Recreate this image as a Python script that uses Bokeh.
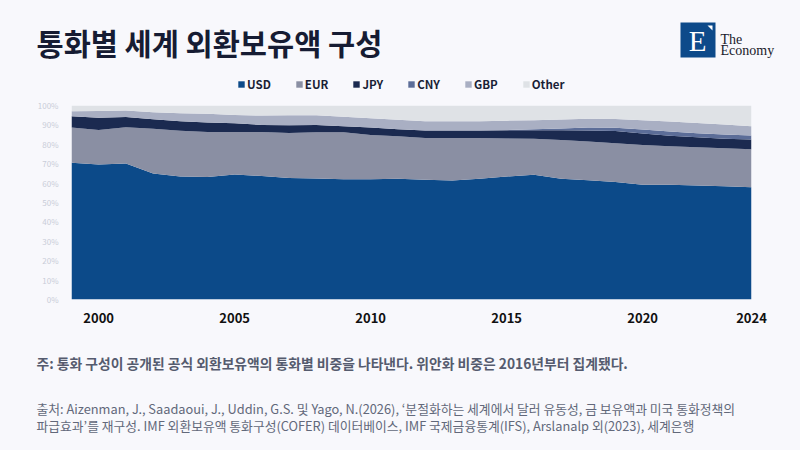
from bokeh.plotting import figure
from bokeh.models import (ColumnDataSource, Label, Legend, LegendItem, FixedTicker,
                          CustomJSTickFormatter, Range1d)
from bokeh.layouts import column
from bokeh.embed import file_html
from bokeh.resources import INLINE

years = list(range(1999, 2025))
usd = [70.5, 69.6, 70.1, 65.0, 63.4, 63.1, 64.4, 63.7, 62.6, 62.4, 62.0, 62.0, 62.2,
       61.7, 61.3, 62.2, 63.4, 64.3, 62.3, 61.5, 60.6, 59.2, 59.2, 58.7, 58.4, 57.9]
eur = [18.2, 17.8, 18.7, 23.0, 23.6, 23.2, 22.0, 22.6, 23.2, 23.8, 24.2, 22.8, 22.0,
       21.6, 21.9, 21.0, 19.6, 18.5, 19.9, 19.9, 20.0, 20.5, 19.8, 19.8, 19.6, 19.5]
jpy = [5.8, 6.3, 5.3, 4.9, 4.9, 4.9, 4.4, 3.7, 4.0, 3.8, 3.1, 3.8, 3.6,
       3.8, 3.9, 3.9, 4.3, 4.4, 5.1, 5.7, 6.2, 5.9, 5.4, 5.1, 4.9, 5.1]
cny = [0.0, 0.0, 0.0, 0.0, 0.0, 0.0, 0.0, 0.0, 0.0, 0.0, 0.0, 0.0, 0.0,
       0.0, 0.0, 0.0, 0.0, 0.6, 0.9, 1.6, 1.7, 2.0, 2.2, 2.1, 2.1, 2.0]
gbp = [2.6, 3.5, 3.3, 3.6, 4.1, 4.6, 4.3, 4.8, 5.2, 5.0, 4.9, 4.8, 4.8,
       4.8, 4.8, 4.8, 4.9, 4.6, 4.6, 4.5, 4.6, 4.8, 5.2, 5.3, 5.2, 4.8]
other = [2.9, 2.8, 2.6, 3.5, 4.0, 4.2, 4.9, 5.2, 5.0, 5.0, 5.8, 6.6, 7.4,
         8.1, 8.1, 8.1, 7.8, 7.6, 7.2, 6.8, 6.9, 7.6, 8.2, 9.0, 9.8, 10.7]

series_names = ["USD", "EUR", "JPY", "CNY", "GBP", "Other"]
series_colors = ["#0c4a89", "#8a8fa3", "#1b2a50", "#5c6d98", "#a9afc3", "#dfe2e6"]
x_ticks = [2000, 2005, 2010, 2015, 2020, 2024]
y_ticks = [0, 10, 20, 30, 40, 50, 60, 70, 80, 90, 100]

title_text = "통화별 세계 외환보유액 구성"
note_text = "주: 통화 구성이 공개된 공식 외환보유액의 통화별 비중을 나타낸다. 위안화 비중은 2016년부터 집계됐다."
source_line1 = "출처: Aizenman, J., Saadaoui, J., Uddin, G.S. 및 Yago, N.(2026), ‘분절화하는 세계에서 달러 유동성, 금 보유액과 미국 통화정책의"
source_line2 = "파급효과’를 재구성. IMF 외환보유액 통화구성(COFER) 데이터베이스, IMF 국제금융통계(IFS), Arslanalp 외(2023), 세계은행"

BG = "#f8f8fc"
KR = "Noto Sans CJK KR"
W = 800
H_HEAD, H_CHART, H_FOOT = 97, 243, 110

series_values = dict(USD=usd, EUR=eur, JPY=jpy, CNY=cny, GBP=gbp, Other=other)


def blank_fig(h):
    f = figure(width=W, height=h, output_backend="svg", toolbar_location=None,
               x_range=Range1d(0, W), y_range=Range1d(h, 0),
               x_axis_type=None, y_axis_type=None, frame_align=False,
               min_border=0, min_border_left=0, min_border_right=0,
               min_border_top=0, min_border_bottom=0,
               background_fill_color=BG, border_fill_color=BG, outline_line_color=None)
    f.xgrid.visible = False
    f.ygrid.visible = False
    return f


def add_text(f, text, x, y, size, color, font=KR, style="normal", align="left", baseline="middle"):
    f.add_layout(Label(x=x, y=y, text=text, text_font=font, text_font_size=size,
                       text_font_style=style, text_color=color,
                       text_align=align, text_baseline=baseline))


# ---- header: title + logo + legend
head = blank_fig(H_HEAD)
add_text(head, title_text, 36, 41, "29.5px", "#161c33", style="bold")
head.quad(left=[680], right=[715], top=[22], bottom=[57], fill_color="#0d4a8a", line_color=None)
head.patch(x=[707, 712, 712], y=[25, 25, 30], fill_color="#ffffff", line_color=None)
add_text(head, "E", 697, 40.5, "29px", "#ffffff", font="Liberation Serif", align="center")
add_text(head, "The", 720, 38.5, "14px", "#1a1a2a", font="Liberation Serif", baseline="alphabetic")
add_text(head, "Economy", 720, 49.5, "14px", "#1a1a2a", font="Liberation Serif", baseline="alphabetic")

# legend swatches: the series themselves, drawn in the header (they fall outside its range)
swatches = [head.varea(x=years, y1=0, y2=series_values[n], color=c)
            for n, c in zip(series_names, series_colors)]
legend = Legend(items=[LegendItem(label=n, renderers=[r]) for n, r in zip(series_names, swatches)],
                orientation="horizontal", location=(237, 5),
                background_fill_alpha=0, border_line_color=None, padding=0, margin=0,
                spacing=24, glyph_width=8, glyph_height=8, label_standoff=2,
                label_height=8, label_text_font=KR, label_text_font_style="bold",
                label_text_font_size="11.5px", label_text_color="#1a1f36",
                label_text_baseline="middle")
head.add_layout(legend, "center")

# ---- chart
source = ColumnDataSource(dict(year=years, **series_values))

p = figure(width=W, height=H_CHART, output_backend="svg", toolbar_location=None,
           x_range=Range1d(1999, 2024), y_range=Range1d(0, 100), frame_align=False,
           min_border_left=71, min_border_right=49, min_border_top=8, min_border_bottom=41,
           background_fill_color=BG, border_fill_color=BG, outline_line_color=None)

p.varea_stack(stackers=series_names, x="year", color=series_colors, source=source)

p.xgrid.visible = False
p.ygrid.visible = False

p.xaxis.ticker = FixedTicker(ticks=x_ticks)
p.xaxis.axis_line_color = None
p.xaxis.major_tick_line_color = None
p.xaxis.minor_tick_line_color = None
p.xaxis.major_label_text_font = KR
p.xaxis.major_label_text_font_style = "bold"
p.xaxis.major_label_text_font_size = "13px"
p.xaxis.major_label_text_color = "#111111"
p.xaxis.major_label_standoff = 7

p.yaxis.ticker = FixedTicker(ticks=y_ticks)
p.yaxis.formatter = CustomJSTickFormatter(code="return tick + '%';")
p.yaxis.axis_line_color = None
p.yaxis.major_tick_line_color = None
p.yaxis.minor_tick_line_color = None
p.yaxis.major_label_text_font = KR
p.yaxis.major_label_text_font_size = "8px"
p.yaxis.major_label_text_color = "#c9cdd8"
p.yaxis.major_label_standoff = 7

# ---- footer: notes
foot = blank_fig(H_FOOT)
add_text(foot, note_text, 36, 22, "13.8px", "#555b6e", style="bold")
add_text(foot, source_line1, 36, 68, "12.8px", "#62687a")
add_text(foot, source_line2, 36, 85, "12.8px", "#62687a")

layout = column(head, p, foot, spacing=0)

html = file_html(layout, INLINE)
html = html.replace("<head>", "<head><style>body{background:%s;}</style>" % BG, 1)
open("out.html", "w").write(html)
